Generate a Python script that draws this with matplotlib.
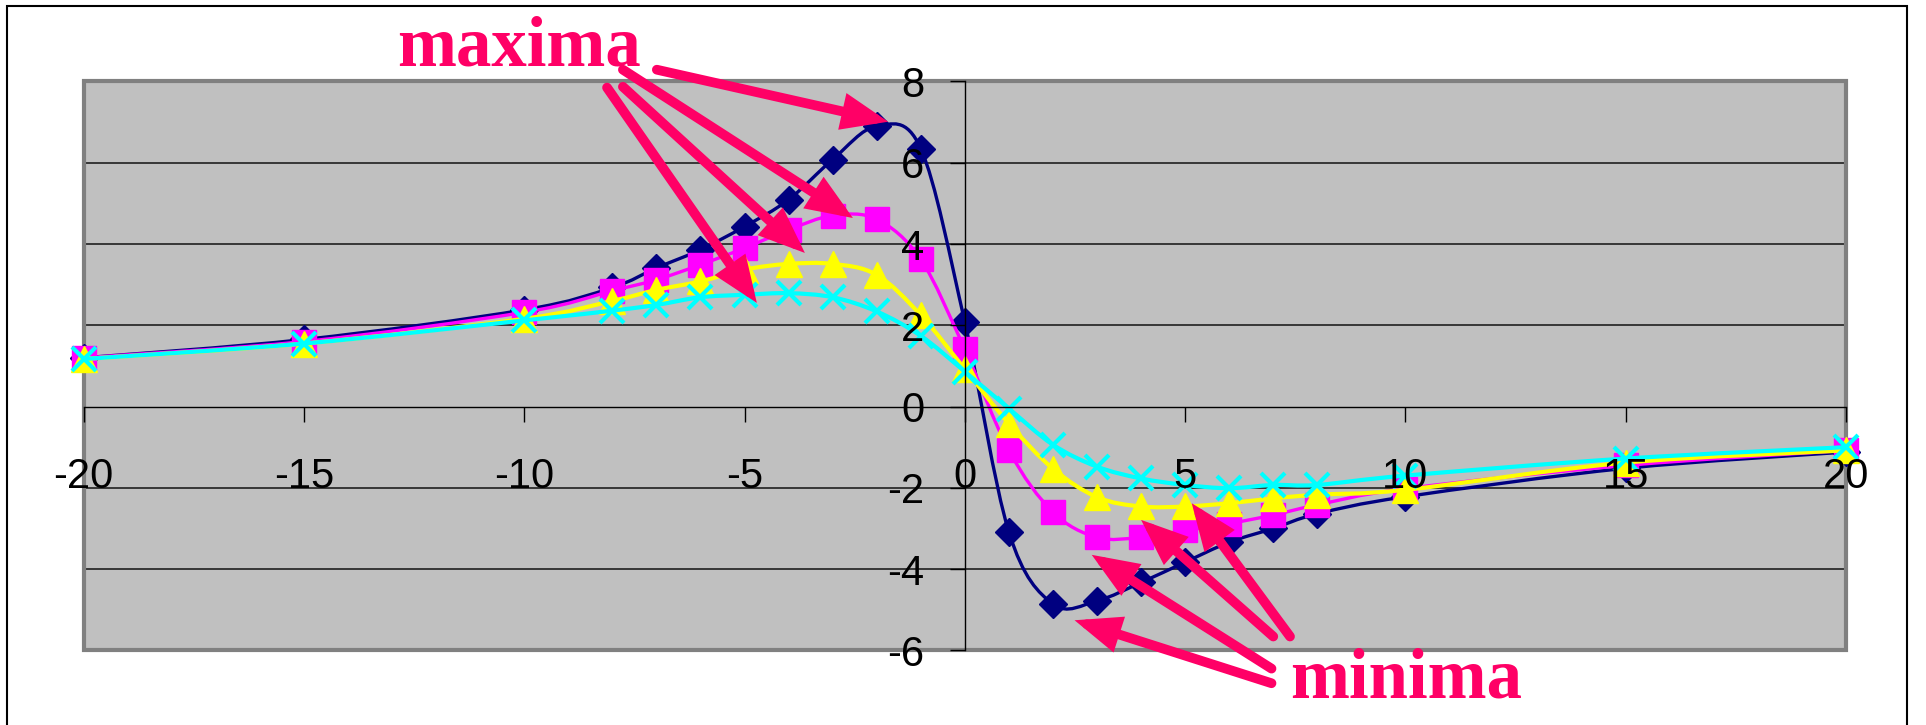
import matplotlib
matplotlib.use("Agg")
import matplotlib.pyplot as plt
from matplotlib.path import Path
from matplotlib.patches import PathPatch, Rectangle

# values
x = [-20, -15, -10, -8, -7, -6, -5, -4, -3, -2, -1, 0, 1, 2, 3, 4, 5, 6, 7, 8, 10, 15, 20]
navy = [1.2, 1.65, 2.38, 2.93, 3.41, 3.86, 4.43, 5.09, 6.08, 6.9, 6.35, 2.08,
        -3.09, -4.86, -4.78, -4.33, -3.83, -3.34, -3.0, -2.64, -2.22, -1.52, -1.12]
pink = [1.2, 1.6, 2.32, 2.85, 3.12, 3.49, 3.9, 4.35, 4.7, 4.61, 3.62, 1.41,
        -1.08, -2.6, -3.22, -3.22, -3.05, -2.88, -2.67, -2.42, -2.02, -1.45, -1.08]
yellow = [1.17, 1.55, 2.16, 2.6, 2.87, 3.08, 3.37, 3.51, 3.51, 3.24, 2.25, 0.92,
          -0.42, -1.53, -2.23, -2.46, -2.46, -2.38, -2.26, -2.17, -2.05, -1.38, -1.08]
cyan = [1.17, 1.55, 2.12, 2.36, 2.5, 2.69, 2.75, 2.79, 2.69, 2.34, 1.74, 0.86,
        -0.05, -0.94, -1.48, -1.77, -1.93, -2.01, -1.93, -1.93, -1.7, -1.28, -1.0]

xticks = [-20, -15, -10, -5, 0, 5, 10, 15, 20]
yticks = [-6, -4, -2, 0, 2, 4, 6, 8]

# arrows: (tail, tip) in data units
max_arrows = [((-6.99, 8.29), (-1.74, 7.01)),
              ((-7.76, 8.29), (-2.54, 4.64)),
              ((-7.76, 7.87), (-3.63, 3.78)),
              ((-8.12, 7.85), (-4.72, 2.55))]
min_arrows = [((6.96, -6.81), (2.49, -5.26)),
              ((6.96, -6.45), (2.88, -3.65)),
              ((7.0, -5.66), (4.0, -2.79)),
              ((7.38, -5.66), (5.15, -2.38))]

note_color = '#FF0066'


def smooth_path(xs, ys):
    # Excel-style smoothed line: cubic Bezier segments through the points
    n = len(xs)
    verts = [(xs[0], ys[0])]
    codes = [Path.MOVETO]
    for i in range(n - 1):
        i0 = max(i - 1, 0)
        i3 = min(i + 2, n - 1)
        c1 = (xs[i] + (xs[i + 1] - xs[i0]) / 6, ys[i] + (ys[i + 1] - ys[i0]) / 6)
        c2 = (xs[i + 1] - (xs[i3] - xs[i]) / 6, ys[i + 1] - (ys[i3] - ys[i]) / 6)
        verts += [c1, c2, (xs[i + 1], ys[i + 1])]
        codes += [Path.CURVE4] * 3
    return Path(verts, codes)


plt.rcParams['font.family'] = ['Liberation Sans', 'DejaVu Sans']

fig = plt.figure(figsize=(19.26, 7.25), dpi=100)
ax = fig.add_axes([0.0434, 0.103, 0.9151, 0.7846])
ax.set_facecolor('#C0C0C0')
ax.set_xlim(-20, 20)
ax.set_ylim(-6, 8)
ax.set_axisbelow(False)

for yv in [-4, -2, 2, 4, 6]:
    ax.axhline(yv, color='#202020', lw=1.2, zorder=1)
ax.add_patch(Rectangle((0, 0), 1, 1, transform=ax.transAxes, fill=False,
                       ec='#808080', lw=3, clip_on=False, zorder=1.5))

series = [
    (navy, '#000080', 'D', 14, 2.4),
    (pink, '#FF00FF', 's', 17, 2.4),
    (yellow, '#FFFF00', '^', 19, 3.0),
    (cyan, '#00FFFF', 'x', 17.5, 3.0),
]
for k, (ys, col, mk, ms, lw) in enumerate(series):
    ax.add_patch(PathPatch(smooth_path(x, ys), fill=False, ec=col, lw=lw,
                           zorder=2 + k * 0.01))
    ax.plot(x, ys, ls='none', marker=mk, ms=ms, color=col, mec=col,
            mew=3 if mk == 'x' else 1, zorder=2.005 + k * 0.01, clip_on=False)

for s in ['top', 'right']:
    ax.spines[s].set_visible(False)
ax.spines['left'].set_position(('data', 0))
ax.spines['bottom'].set_position(('data', 0))
ax.spines['left'].set_color('black')
ax.spines['bottom'].set_color('black')
ax.spines['left'].set_linewidth(1)
ax.spines['bottom'].set_linewidth(1)

ax.set_xticks(xticks)
ax.set_yticks(yticks)
ax.set_xticklabels([str(v) for v in xticks])
ax.set_yticklabels([str(v) for v in yticks])
ax.tick_params(axis='x', direction='out', length=11, width=1, pad=25, labelsize=30)
ax.tick_params(axis='y', direction='out', length=11, width=1, pad=18, labelsize=30)

for tail, tip in max_arrows + min_arrows:
    ax.annotate('', xy=tip, xytext=tail, annotation_clip=False,
                arrowprops=dict(arrowstyle='-|>,head_length=0.95,head_width=0.38',
                                mutation_scale=22, lw=7, color=note_color,
                                shrinkA=0, shrinkB=0, joinstyle='miter'),
                zorder=5)

fig.text(397 / 1926, 1 - 66 / 725, 'maxima', color=note_color, fontsize=51,
         fontweight='bold', family=['Liberation Serif', 'DejaVu Serif'],
         ha='left', va='baseline')
fig.text(1290 / 1926, 1 - 698 / 725, 'minima', color=note_color, fontsize=51,
         fontweight='bold', family=['Liberation Serif', 'DejaVu Serif'],
         ha='left', va='baseline')

# outer chart frame
fig.patches.append(Rectangle((7 / 1926, -0.02), (1907 - 7) / 1926, 1.02 - 6 / 725,
                             transform=fig.transFigure, fill=False, ec='black', lw=1.5))

fig.savefig('out.png', dpi=100)
